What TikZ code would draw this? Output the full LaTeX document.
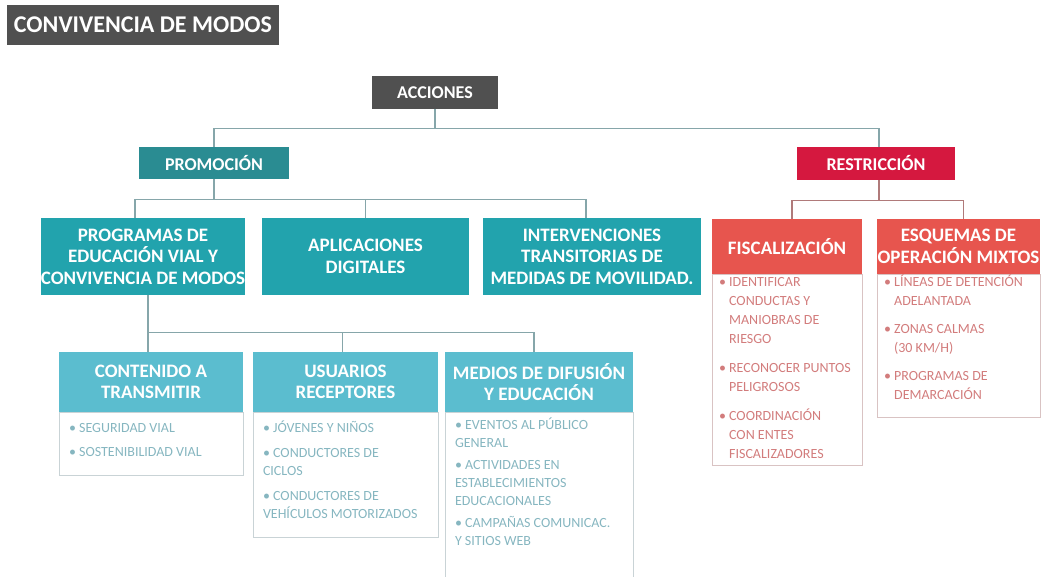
\documentclass[tikz,border=0pt]{standalone}
\usepackage{fontspec}
\setmainfont{Carlito}
\usetikzlibrary{positioning}

\definecolor{grisOsc}{HTML}{505050}
\definecolor{tealOsc}{HTML}{2A8C92}
\definecolor{tealMed}{HTML}{22A3AD}
\definecolor{tealCla}{HTML}{5BBDCF}
\definecolor{rojoOsc}{HTML}{D5183F}
\definecolor{rojoCla}{HTML}{E7554E}
\definecolor{lineaT}{HTML}{86A6AA}
\definecolor{lineaR}{HTML}{B07A7A}
\definecolor{textoT}{HTML}{86B6C0}
\definecolor{textoR}{HTML}{D27C7C}
\definecolor{bordeT}{HTML}{C9D3D6}
\definecolor{bordeR}{HTML}{D9C3C3}

% caja de texto con alto fijo: ancho, alto, puntal, texto
\newcommand{\caja}[4]{\parbox[t][#2][t]{#1}{\raggedright\rule{0pt}{#3}#4}}
\newcommand{\sng}{\phantom{\textbullet\ }}

\begin{document}
\begin{tikzpicture}[x=1pt, y=-1pt,
    bloque/.style={fill=#1, text=white, inner sep=0pt, align=center,
      font=\bfseries\fontsize{19}{21.5}\selectfont},
    nivel/.style={font=\bfseries\fontsize{18}{20}\selectfont},
    cuerpoT/.style={draw=bordeT, line width=0.8pt, inner xsep=10pt, inner ysep=0pt,
      text=textoT, font=\fontsize{14}{18}\selectfont},
    cuerpoR/.style={draw=bordeR, line width=0.8pt, inner xsep=7pt, inner ysep=0pt,
      text=textoR, font=\fontsize{14}{19}\selectfont},
    rama/.style={draw=lineaT, line width=1.3pt},
    ramaR/.style={draw=lineaR, line width=1.3pt}]

  \clip (0,0) rectangle (1042,577);

  % === título ===
  \node[bloque=grisOsc, minimum width=272pt, minimum height=40pt,
        font=\bfseries\fontsize{24}{26}\selectfont] (titulo) at (143,25) {CONVIVENCIA DE MODOS};

  % === acciones, promoción y restricción ===
  \node[bloque=grisOsc, nivel, minimum width=126pt, minimum height=33pt] (acc) at (435,92.5) {ACCIONES};
  \node[bloque=tealOsc, nivel, minimum width=150pt, minimum height=32pt] (promo) at (214,163) {PROMOCIÓN};
  \node[bloque=rojoOsc, nivel, minimum width=158pt, minimum height=33pt] (restr) at (876,163.5) {RESTRICCIÓN};

  % === promoción: segundo nivel ===
  \node[bloque=tealMed, minimum width=202pt, minimum height=77pt] (prog) at (143,256.5)
    {PROGRAMAS DE\\EDUCACIÓN VIAL Y\\CONVIVENCIA DE MODOS};
  \node[bloque=tealMed, minimum width=207pt, minimum height=77pt] (apps) at (365.5,256.5)
    {APLICACIONES\\DIGITALES};
  \node[bloque=tealMed, minimum width=218pt, minimum height=77pt] (inter) at (592,256.5)
    {INTERVENCIONES\\TRANSITORIAS DE\\MEDIDAS DE MOVILIDAD.};

  % === programas: tercer nivel ===
  \node[bloque=tealCla, minimum width=184pt, minimum height=60pt] (cont) at (151,382) {CONTENIDO A\\TRANSMITIR};
  \node[bloque=tealCla, minimum width=185pt, minimum height=60pt] (usu) at (345.5,382) {USUARIOS\\RECEPTORES};
  \node[bloque=tealCla, minimum width=188pt, minimum height=60pt] (med) at (539,382) {MEDIOS DE DIFUSIÓN\\Y EDUCACIÓN};

  \node[cuerpoT, below=0pt of cont] (contB) {\caja{164pt}{63pt}{20pt}{%
    \textbullet\ SEGURIDAD VIAL\\[6pt]
    \textbullet\ SOSTENIBILIDAD VIAL}};
  \node[cuerpoT, below=0pt of usu] (usuB) {\caja{165pt}{125pt}{20pt}{%
    \textbullet\ JÓVENES Y NIÑOS\\[7pt]
    \textbullet\ CONDUCTORES DE\\CICLOS\\[7pt]
    \textbullet\ CONDUCTORES DE\\VEHÍCULOS MOTORIZADOS}};
  \node[cuerpoT, below=0pt of med] (medB) {\caja{168pt}{180pt}{17pt}{%
    \textbullet\ EVENTOS AL PÚBLICO\\GENERAL\\[4pt]
    \textbullet\ ACTIVIDADES EN\\ESTABLECIMIENTOS\\EDUCACIONALES\\[4pt]
    \textbullet\ CAMPAÑAS COMUNICAC.\\Y SITIOS WEB}};

  % === restricción: segundo nivel ===
  \node[bloque=rojoCla, minimum width=150pt, minimum height=55pt] (fisc) at (787,246.5) {FISCALIZACIÓN};
  \node[bloque=rojoCla, minimum width=163pt, minimum height=55pt] (esq) at (958.5,246.5) {ESQUEMAS DE\\OPERACIÓN MIXTOS};

  \node[cuerpoR, below=0pt of fisc] (fiscB) {\caja{136pt}{191pt}{12pt}{%
    \textbullet\ IDENTIFICAR\\\sng CONDUCTAS Y\\\sng MANIOBRAS DE\\\sng RIESGO\\[10pt]
    \textbullet\ RECONOCER PUNTOS\\\sng PELIGROSOS\\[10pt]
    \textbullet\ COORDINACIÓN\\\sng CON ENTES\\\sng FISCALIZADORES}};
  \node[cuerpoR, below=0pt of esq] (esqB) {\caja{149pt}{143pt}{12pt}{%
    \textbullet\ LÍNEAS DE DETENCIÓN\\\sng ADELANTADA\\[9pt]
    \textbullet\ ZONAS CALMAS\\\sng (30 KM/H)\\[9pt]
    \textbullet\ PROGRAMAS DE\\\sng DEMARCACIÓN}};

  % === conectores ===
  \coordinate (j1) at ([yshift=-19pt]acc.south);
  \draw[rama] (acc.south) -- (j1);
  \draw[rama] (promo.north) |- (j1) -| ([xshift=3pt]restr.north);

  \coordinate (j2) at ([yshift=-20pt]promo.south);
  \draw[rama] (promo.south) -- (j2);
  \draw[rama] ([xshift=-8pt]prog.north) |- (j2) -| ([xshift=-6pt]inter.north);
  \draw[rama] (apps.north) -- ++(0,-19);

  \coordinate (j3) at ([xshift=5pt, yshift=-37pt]prog.south);
  \draw[rama] ([xshift=5pt]prog.south) -- (j3);
  \draw[rama] ([xshift=-3pt]cont.north) |- (j3) -| ([xshift=-5pt]med.north);
  \draw[rama] ([xshift=-3pt]usu.north) -- ++(0,-20);

  \coordinate (j4) at ([yshift=-20pt]restr.south);
  \draw[ramaR] ([xshift=3pt]restr.south) -- ([xshift=3pt]j4);
  \draw[ramaR] ([xshift=5pt]fisc.north) |- (j4) -| ([xshift=5pt]esq.north);
\end{tikzpicture}
\end{document}
